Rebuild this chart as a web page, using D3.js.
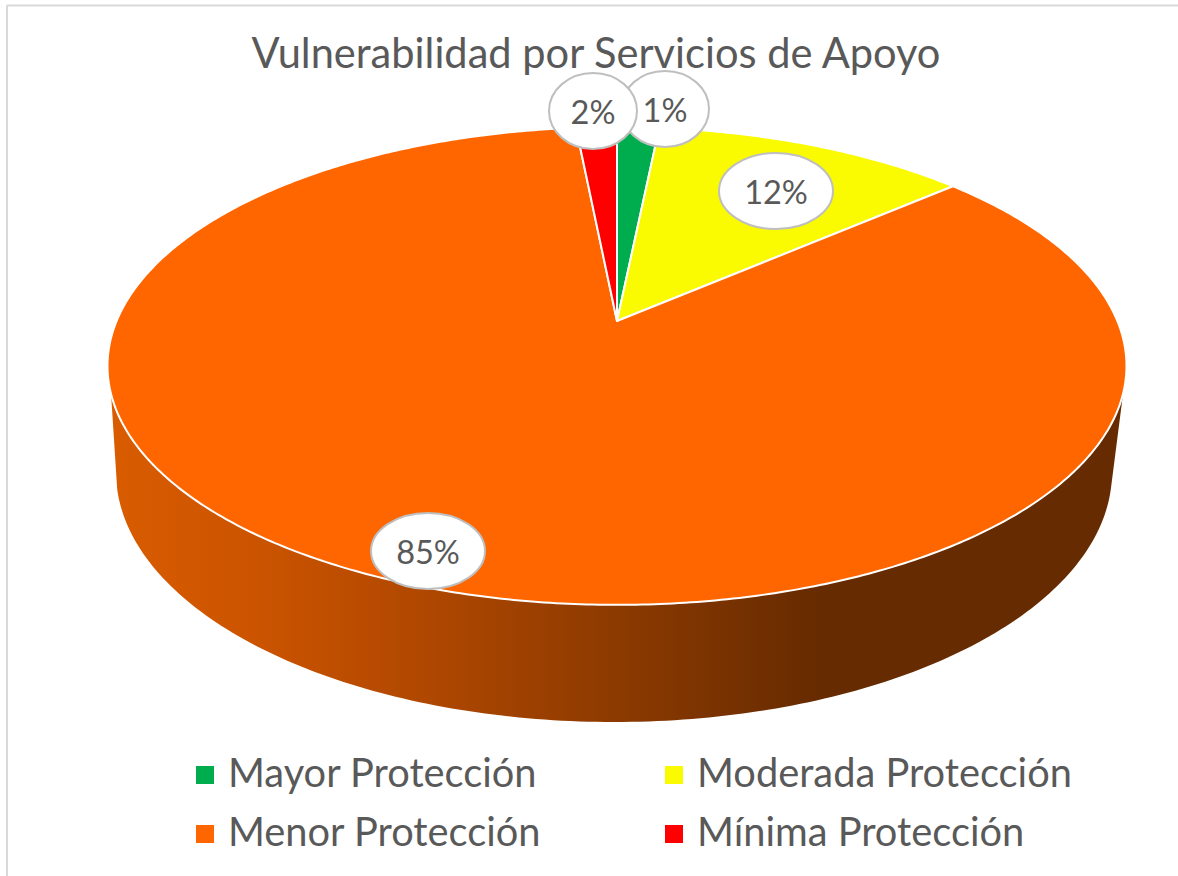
<!DOCTYPE html>
<html>
<head>
<meta charset="utf-8">
<script src="https://cdnjs.cloudflare.com/ajax/libs/d3/7.8.5/d3.min.js"></script>
<style>
	html, body { margin: 0; padding: 0; background: #fff; }
	svg { display: block; }
	text { font-family: Lato, "Open Sans", sans-serif; fill: #595959; }
</style>
</head>
<body>
<script>
//chart values
var categories = ["Mayor Protección", "Moderada Protección", "Menor Protección", "Mínima Protección"];
var sliceValues = [1.6, 12.0, 84.85, 1.55]; //slice sizes as they are drawn
var sliceLabels = ["1%", "12%", "85%", "2%"]; //printed labels
var sliceColors = ["#00AD4E", "#FAFA00", "#FF6600", "#FF0000"];
var chartTitle = "Vulnerabilidad por Servicios de Apoyo";

(function(){

	var width = 1178, height = 876;

	//pie is a circle seen in perspective, apex is not the middle of the ellipse
	var apexX = 617, apexY = 321,
		scaleU = 500.4, scaleV = 230.5, tilt = 0.188;

	//lower edge of the wall is its own ellipse
	var lowerX = 614, lowerY = 472, lowerRx = 498, lowerRy = 250;

	//label ovals, same order as the categories
	var labelBoxes = [
		{x: 665, y: 109, rx: 44, ry: 38},
		{x: 776, y: 191, rx: 57, ry: 38},
		{x: 428, y: 551, rx: 57, ry: 38},
		{x: 593, y: 111, rx: 44, ry: 38}
	];

	var svg = d3.select("body").append("svg")
		.attr("width", width)
		.attr("height", height);

	var color = d3.scaleOrdinal().domain(categories).range(sliceColors);

	var pie = d3.pie().sort(null).value(function(d){ return d.value; });
	var rows = categories.map(function(c, i){
		return {name: c, value: sliceValues[i], label: sliceLabels[i], box: labelBoxes[i]};
	});
	var slices = pie(rows);

	//angle on the circle to screen point
	function project(a){
		var u = Math.sin(a), v = -Math.cos(a), w = 1 - tilt * v;
		return [apexX + scaleU * u / w, apexY + scaleV * v / w];
	}

	function rimPoints(a0, a1){
		var n = Math.max(2, Math.ceil((a1 - a0) / 0.01));
		return d3.range(n + 1).map(function(i){ return project(a0 + (a1 - a0) * i / n); });
	}

	var line = d3.line();

	//wall gradient, runs left to right
	var grad = svg.append("defs").append("linearGradient")
		.attr("id", "wall")
		.attr("gradientUnits", "userSpaceOnUse")
		.attr("x1", 108).attr("x2", 1125).attr("y1", 0).attr("y2", 0);
	[[0, "#D95C00"], [0.14, "#CC5400"], [0.32, "#AE4700"], [0.5, "#8C3A00"], [0.7, "#662B00"], [1, "#662B00"]].forEach(function(s){
		grad.append("stop").attr("offset", s[0]).attr("stop-color", s[1]);
	});

	//frame
	svg.append("line").attr("x1", 7).attr("x2", width).attr("y1", 5.5).attr("y2", 5.5)
		.attr("stroke", "#D9D9D9").attr("stroke-width", 2);
	svg.append("line").attr("x1", 7).attr("x2", 7).attr("y1", 5).attr("y2", height)
		.attr("stroke", "#D9D9D9").attr("stroke-width", 2);

	//wall: top rim where it is below the widest part, then back along lower ellipse
	var menor = slices[2];
	var wallTop = rimPoints(menor.startAngle, menor.endAngle).filter(function(p){ return p[1] >= 393; });
	var wallBottom = d3.range(176, 3, -1).map(function(deg){
		var t = deg * Math.PI / 180;
		return [lowerX + lowerRx * Math.cos(t), lowerY + lowerRy * Math.sin(t)];
	});
	svg.append("path")
		.attr("d", line(wallTop.concat(wallBottom)) + "Z")
		.attr("fill", "url(#wall)");

	//pie top
	svg.selectAll(".slice")
		.data(slices)
		.enter()
		.append("path")
		.attr("class", "slice")
		.attr("d", function(d){
			return line([[apexX, apexY]].concat(rimPoints(d.startAngle, d.endAngle))) + "Z";
		})
		.attr("fill", function(d){ return color(d.data.name); })
		.attr("stroke", "#fff")
		.attr("stroke-width", 2)
		.attr("stroke-linejoin", "round");

	//title
	svg.append("text")
		.attr("x", 596)
		.attr("y", 68)
		.attr("text-anchor", "middle")
		.style("font-size", "41.6px")
		.text(chartTitle);

	//data labels, 1% goes under 2%
	var labels = svg.selectAll(".label")
		.data(slices)
		.enter()
		.append("g")
		.attr("class", "label")
		.attr("transform", function(d){ return "translate(" + d.data.box.x + "," + d.data.box.y + ")"; });
	labels.append("ellipse")
		.attr("rx", function(d){ return d.data.box.rx; })
		.attr("ry", function(d){ return d.data.box.ry; })
		.attr("fill", "#fff")
		.attr("stroke", "#BFBFBF")
		.attr("stroke-width", 2);
	labels.append("text")
		.attr("y", 12.5)
		.attr("text-anchor", "middle")
		.style("font-size", "32.5px")
		.text(function(d){ return d.data.label; });

	//legend, two columns
	var legendX = [196, 665], legendY = [766, 825];
	var legend = svg.selectAll(".legend")
		.data(rows)
		.enter()
		.append("g")
		.attr("class", "legend")
		.attr("transform", function(d, i){
			return "translate(" + legendX[i % 2] + "," + legendY[Math.floor(i / 2)] + ")";
		});
	legend.append("rect")
		.attr("width", 18)
		.attr("height", 18)
		.attr("fill", function(d){ return color(d.name); });
	legend.append("text")
		.attr("x", 32)
		.attr("y", 21)
		.style("font-size", "39.8px")
		.text(function(d){ return d.name; });

})();
</script>
</body>
</html>
